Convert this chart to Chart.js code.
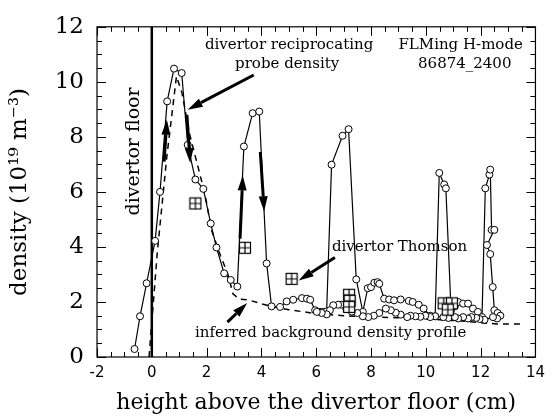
<!DOCTYPE html>
<html>
<head>
<meta charset="utf-8">
<script src="https://cdn.jsdelivr.net/npm/chart.js@4.4.0/dist/chart.umd.min.js"></script>
<style>
  html, body { margin: 0; padding: 0; background: #fff; }
  #wrap { width: 552px; height: 420px; }
</style>
</head>
<body>
<div id="wrap"><canvas id="densityChart" width="552" height="420"></canvas></div>
<script>
// reciprocating probe density, in the order the probe travels
const probeX = [-0.63, -0.43, -0.19, 0.12, 0.30, 0.56, 0.81, 1.09, 1.31, 1.59, 1.88, 2.15, 2.36, 2.64, 2.88, 3.12,
  3.36, 3.68, 3.92, 4.19, 4.37, 4.68, 4.92, 5.16, 5.48, 5.66, 5.78, 5.96, 6.14, 6.26, 6.38,
  6.56, 6.96, 7.18, 7.46, 7.70, 7.88, 8.00, 8.12, 8.24, 8.30, 8.48, 8.66, 8.84, 9.08, 9.38, 9.52, 9.74, 9.92,
  10.16, 10.34, 10.49, 10.67, 10.73, 10.92, 11.06, 11.18, 11.36, 11.54, 11.72, 11.90, 12.05,
  12.17, 12.32, 12.35, 12.40, 12.50, 12.23, 12.35, 12.44, 12.50, 12.62, 12.72, 12.60, 12.45,
  12.14, 11.96, 11.84, 11.66, 11.54, 11.36, 11.18, 11.06, 10.82, 10.64, 10.34, 10.16, 9.98, 9.80, 9.62, 9.44,
  9.32, 9.08, 8.90, 8.72, 8.54, 8.30, 8.10, 7.90, 7.70, 7.50, 7.30, 7.10, 6.92, 6.80, 6.62, 6.50, 6.38, 6.20, 6.02];
const probeY = [0.29, 1.48, 2.68, 4.22, 6.00, 9.29, 10.48, 10.32, 7.71, 6.45, 6.11, 4.85, 3.98, 3.04, 2.80, 2.56,
  7.65, 8.86, 8.92, 3.40, 1.84, 1.82, 2.02, 2.08, 2.14, 2.12, 2.08, 1.70, 1.64, 1.64, 1.66,
  6.99, 8.04, 8.28, 2.82, 1.64, 2.50, 2.54, 2.70, 2.72, 2.66, 2.12, 2.09, 2.06, 2.09, 2.04, 2.00, 1.90, 1.76,
  1.50, 1.48, 6.69, 6.27, 6.13, 1.70, 1.85, 2.00, 1.94, 1.94, 1.76, 1.64, 1.45,
  6.13, 6.63, 6.81, 4.62, 4.62, 4.07, 3.74, 2.54, 1.70, 1.60, 1.50, 1.40, 1.45,
  1.35, 1.38, 1.42, 1.45, 1.40, 1.45, 1.40, 1.45, 1.42, 1.45, 1.48, 1.45, 1.50, 1.46, 1.48, 1.50,
  1.45, 1.54, 1.61, 1.70, 1.76, 1.60, 1.50, 1.45, 1.48, 1.60, 1.65, 1.75, 1.90, 1.90, 1.88, 1.70, 1.55, 1.60, 1.64];

// inferred background density profile (dashed)
const backgroundX = [-0.1, 0.2, 0.55, 0.9, 1.1, 1.38, 1.88, 2.0, 2.18, 2.5, 2.78, 2.96, 3.2, 3.5, 4.34, 5.0,
  5.96, 7.0, 7.94, 8.9, 10.0, 11.0, 12.0, 12.6, 13.6];
const backgroundY = [0, 3.8, 7.3, 10.2, 9.6, 8.1, 6.15, 5.6, 4.6, 3.7, 3.0, 2.3, 2.1, 2.08, 1.84, 1.72,
  1.58, 1.5, 1.45, 1.43, 1.38, 1.33, 1.25, 1.2, 1.2];

// divertor Thomson points
const thomsonX = [1.59, 3.40, 5.10, 7.20, 7.22, 7.20, 10.65, 10.95, 10.80];
const thomsonY = [5.58, 3.97, 2.84, 2.26, 2.04, 1.82, 1.95, 1.95, 1.72];

// divertor floor
const floorX = [0, 0];
const floorY = [0, 12];

// axis ranges
const xTicks = [-2, 0, 2, 4, 6, 8, 10, 12, 14];
const yTicks = [0, 2, 4, 6, 8, 10, 12];

// arrows, in data units
const arrowFromX = [3.72, 0.45, 1.28, 3.22, 3.96, 6.68, 2.76];
const arrowFromY = [10.25, 7.10, 8.80, 4.30, 7.45, 3.62, 1.27];
const arrowToX = [1.31, 0.55, 1.40, 3.32, 4.10, 5.36, 3.48];
const arrowToY = [8.99, 8.62, 7.05, 6.60, 5.30, 2.78, 1.96];

// text notes
const noteText = ["divertor reciprocating", "probe density", "FLMing H-mode", "86874_2400",
  "divertor Thomson", "inferred background density profile"];
const noteX = [5.01, 4.94, 11.27, 11.42, 9.04, 6.53];
const noteY = [11.34, 10.65, 11.34, 10.65, 4.00, 0.87];

const serif = "'DejaVu Serif', serif";

function toPoints(xs, ys) {
  return xs.map((x, i) => ({ x: x, y: ys[i] }));
}

// open square with a cross for the Thomson points
function thomsonMark() {
  const c = document.createElement("canvas");
  c.width = 14;
  c.height = 14;
  const g = c.getContext("2d");
  g.fillStyle = "#fff";
  g.fillRect(1, 1, 12, 12);
  g.strokeStyle = "#000";
  g.lineWidth = 1.2;
  g.strokeRect(1.5, 1.5, 11, 11);
  g.beginPath();
  g.moveTo(7, 1.5); g.lineTo(7, 12.5);
  g.moveTo(1.5, 7); g.lineTo(12.5, 7);
  g.stroke();
  return c;
}

function drawArrow(ctx, x0, y0, x1, y1) {
  const ang = Math.atan2(y1 - y0, x1 - x0);
  const head = 15, half = 4.5;
  const bx = x1 - head * Math.cos(ang), by = y1 - head * Math.sin(ang);
  ctx.lineWidth = 3;
  ctx.beginPath();
  ctx.moveTo(x0, y0);
  ctx.lineTo(bx, by);
  ctx.stroke();
  ctx.beginPath();
  ctx.moveTo(x1, y1);
  ctx.lineTo(bx + half * Math.sin(ang), by - half * Math.cos(ang));
  ctx.lineTo(bx - half * Math.sin(ang), by + half * Math.cos(ang));
  ctx.closePath();
  ctx.fill();
}

// frame, inward ticks, arrows and notes
const decorPlugin = {
  id: "decor",
  afterDatasetsDraw(chart) {
    const ctx = chart.ctx;
    const a = chart.chartArea;
    const xs = chart.scales.x, ys = chart.scales.y;
    ctx.save();
    ctx.strokeStyle = "#000";
    ctx.fillStyle = "#000";
    ctx.lineWidth = 1.2;
    ctx.strokeRect(a.left, a.top, a.right - a.left, a.bottom - a.top);

    ctx.beginPath();
    for (let v = -2; v <= 14.001; v += 0.5) {
      const px = Math.round(xs.getPixelForValue(v)) + 0.5;
      const len = Math.abs(v % 2) < 0.01 ? 9 : 5;
      ctx.moveTo(px, a.bottom); ctx.lineTo(px, a.bottom - len);
      ctx.moveTo(px, a.top); ctx.lineTo(px, a.top + len);
    }
    for (let v = 0; v <= 12.001; v += 0.5) {
      const py = Math.round(ys.getPixelForValue(v)) + 0.5;
      const len = Math.abs(v % 2) < 0.01 ? 9 : 5;
      ctx.moveTo(a.left, py); ctx.lineTo(a.left + len, py);
      ctx.moveTo(a.right, py); ctx.lineTo(a.right - len, py);
    }
    ctx.lineWidth = 1;
    ctx.stroke();

    for (let i = 0; i < arrowFromX.length; i++) {
      drawArrow(ctx,
        xs.getPixelForValue(arrowFromX[i]), ys.getPixelForValue(arrowFromY[i]),
        xs.getPixelForValue(arrowToX[i]), ys.getPixelForValue(arrowToY[i]));
    }

    ctx.font = "15px " + serif;
    ctx.textAlign = "center";
    ctx.textBaseline = "middle";
    for (let i = 0; i < noteText.length; i++) {
      ctx.fillText(noteText[i], xs.getPixelForValue(noteX[i]), ys.getPixelForValue(noteY[i]));
    }

    ctx.save();
    ctx.translate(xs.getPixelForValue(-0.63), ys.getPixelForValue(7.47));
    ctx.rotate(-Math.PI / 2);
    ctx.font = "19px " + serif;
    ctx.fillText("divertor floor", 0, 0);
    ctx.restore();
    ctx.restore();
  }
};

new Chart(document.getElementById("densityChart"), {
  type: "scatter",
  data: {
    datasets: [
      {
        label: "divertor Thomson",
        data: toPoints(thomsonX, thomsonY),
        pointStyle: thomsonMark(),
        showLine: false,
        order: 0
      },
      {
        label: "probe density",
        data: toPoints(probeX, probeY),
        showLine: true,
        borderColor: "#000",
        borderWidth: 1.2,
        pointRadius: 3.5,
        pointBorderWidth: 1,
        pointBorderColor: "#000",
        pointBackgroundColor: "#fff",
        order: 1
      },
      {
        label: "background",
        data: toPoints(backgroundX, backgroundY),
        showLine: true,
        borderColor: "#000",
        borderWidth: 1.5,
        borderDash: [6, 5],
        pointRadius: 0,
        order: 2
      },
      {
        label: "floor",
        data: toPoints(floorX, floorY),
        showLine: true,
        borderColor: "#000",
        borderWidth: 2.5,
        pointRadius: 0,
        order: 3
      }
    ]
  },
  options: {
    responsive: false,
    animation: false,
    layout: { padding: { top: 25, right: 10, left: 0, bottom: 0 } },
    plugins: {
      legend: { display: false },
      tooltip: { enabled: false }
    },
    scales: {
      x: {
        type: "linear",
        min: -2,
        max: 14,
        afterBuildTicks: (scale) => { scale.ticks = xTicks.map((v) => ({ value: v })); },
        afterFit: (scale) => { scale.height = 63; },
        grid: { display: false, drawTicks: false },
        border: { display: false },
        ticks: {
          color: "#000",
          padding: 7,
          maxRotation: 0,
          font: { family: "'DejaVu Sans', sans-serif", size: 15 }
        },
        title: {
          display: true,
          text: "height above the divertor floor (cm)",
          color: "#000",
          padding: { top: 0, bottom: 4 },
          font: { family: serif, size: 22 }
        }
      },
      y: {
        type: "linear",
        min: 0,
        max: 12,
        afterBuildTicks: (scale) => { scale.ticks = yTicks.map((v) => ({ value: v })); },
        afterFit: (scale) => { scale.width = 97; },
        grid: { display: false, drawTicks: false },
        border: { display: false },
        ticks: {
          color: "#000",
          padding: 13,
          font: { family: serif, size: 23 }
        },
        title: {
          display: true,
          text: "density (10¹⁹ m⁻³)",
          color: "#000",
          padding: { top: 6, bottom: 0 },
          font: { family: serif, size: 23 }
        }
      }
    }
  },
  plugins: [decorPlugin]
});
</script>
</body>
</html>
